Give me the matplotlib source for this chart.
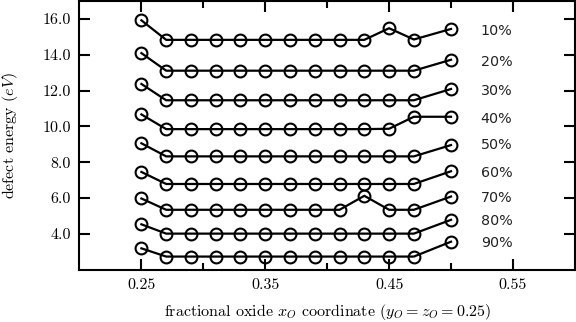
import numpy as np
import matplotlib
matplotlib.use("Agg")
import matplotlib.pyplot as plt
from matplotlib.ticker import FixedLocator

plt.rcParams['font.family'] = 'serif'
plt.rcParams['font.serif'] = ['cmr10']
plt.rcParams['mathtext.fontset'] = 'cm'
plt.rcParams['axes.formatter.use_mathtext'] = True

# fractional x coordinate of the oxide
x_o = [0.25, 0.27, 0.29, 0.31, 0.33, 0.35, 0.37, 0.39, 0.41, 0.43, 0.45, 0.47, 0.50]

# defect energies (eV), one series per concentration
e10 = [15.92, 14.83, 14.83, 14.83, 14.83, 14.83, 14.83, 14.83, 14.83, 14.83, 15.48, 14.85, 15.44]
e20 = [14.09, 13.11, 13.11, 13.11, 13.11, 13.11, 13.11, 13.11, 13.11, 13.11, 13.11, 13.11, 13.72]
e30 = [12.37, 11.46, 11.46, 11.46, 11.46, 11.46, 11.46, 11.46, 11.46, 11.46, 11.46, 11.46, 12.09]
e40 = [10.67, 9.85, 9.85, 9.85, 9.85, 9.85, 9.85, 9.85, 9.85, 9.85, 9.87, 10.54, 10.54]
e50 = [9.06, 8.33, 8.33, 8.33, 8.33, 8.33, 8.33, 8.33, 8.33, 8.33, 8.33, 8.33, 8.96]
e60 = [7.46, 6.79, 6.79, 6.79, 6.79, 6.79, 6.79, 6.79, 6.79, 6.79, 6.79, 6.79, 7.50]
e70 = [5.98, 5.35, 5.35, 5.35, 5.35, 5.35, 5.35, 5.35, 5.35, 6.13, 5.35, 5.35, 6.09]
e80 = [4.54, 4.02, 4.02, 4.02, 4.02, 4.02, 4.02, 4.02, 4.02, 4.02, 4.02, 4.02, 4.79]
e90 = [3.20, 2.74, 2.74, 2.74, 2.74, 2.74, 2.74, 2.74, 2.74, 2.74, 2.74, 2.74, 3.57]

series = [e10, e20, e30, e40, e50, e60, e70, e80, e90]
labels = ['10%', '20%', '30%', '40%', '50%', '60%', '70%', '80%', '90%']
label_y = [15.33, 13.61, 12.0, 10.44, 8.94, 7.39, 6.0, 4.72, 3.5]

xticks = [0.25, 0.35, 0.45, 0.55]
xminor = [0.30, 0.40, 0.50]
yticks = [4.0, 6.0, 8.0, 10.0, 12.0, 14.0, 16.0]

fig = plt.figure(figsize=(5.76, 3.22), dpi=100)
ax = fig.add_axes([0.138, 0.162, 0.860, 0.835])

for e in series:
    ax.plot(x_o, e, color='black', lw=1.6, marker='o', ms=8.5,
            mfc='none', mec='black', mew=1.5)

for lab, ly in zip(labels, label_y):
    ax.text(0.524, ly, lab, fontsize=10.3, family='DejaVu Sans', color='#222222',
            va='center', ha='left')

ax.set_xlim(0.2, 0.6)
ax.set_ylim(2.0, 17.0)
ax.set_xticks(xticks)
ax.set_xticklabels(['%.2f' % t for t in xticks])
ax.xaxis.set_minor_locator(FixedLocator(xminor))
ax.set_yticks(yticks)
ax.set_yticklabels(['%.1f' % t for t in yticks])

ax.tick_params(which='major', direction='in', length=8, width=1.5,
               top=True, right=True, labelsize=11.5, pad=6)
ax.tick_params(which='minor', direction='in', length=5, width=1.5,
               top=True, right=False)
for s in ax.spines.values():
    s.set_linewidth(1.5)

ax.set_xlabel(r'fractional oxide $x_O$ coordinate ($y_O = z_O = 0.25$)',
              fontsize=11.5, labelpad=7.5)
ax.set_ylabel(r'defect energy ($eV$)', fontsize=11.5, labelpad=16)

fig.savefig('out.png', dpi=100)
